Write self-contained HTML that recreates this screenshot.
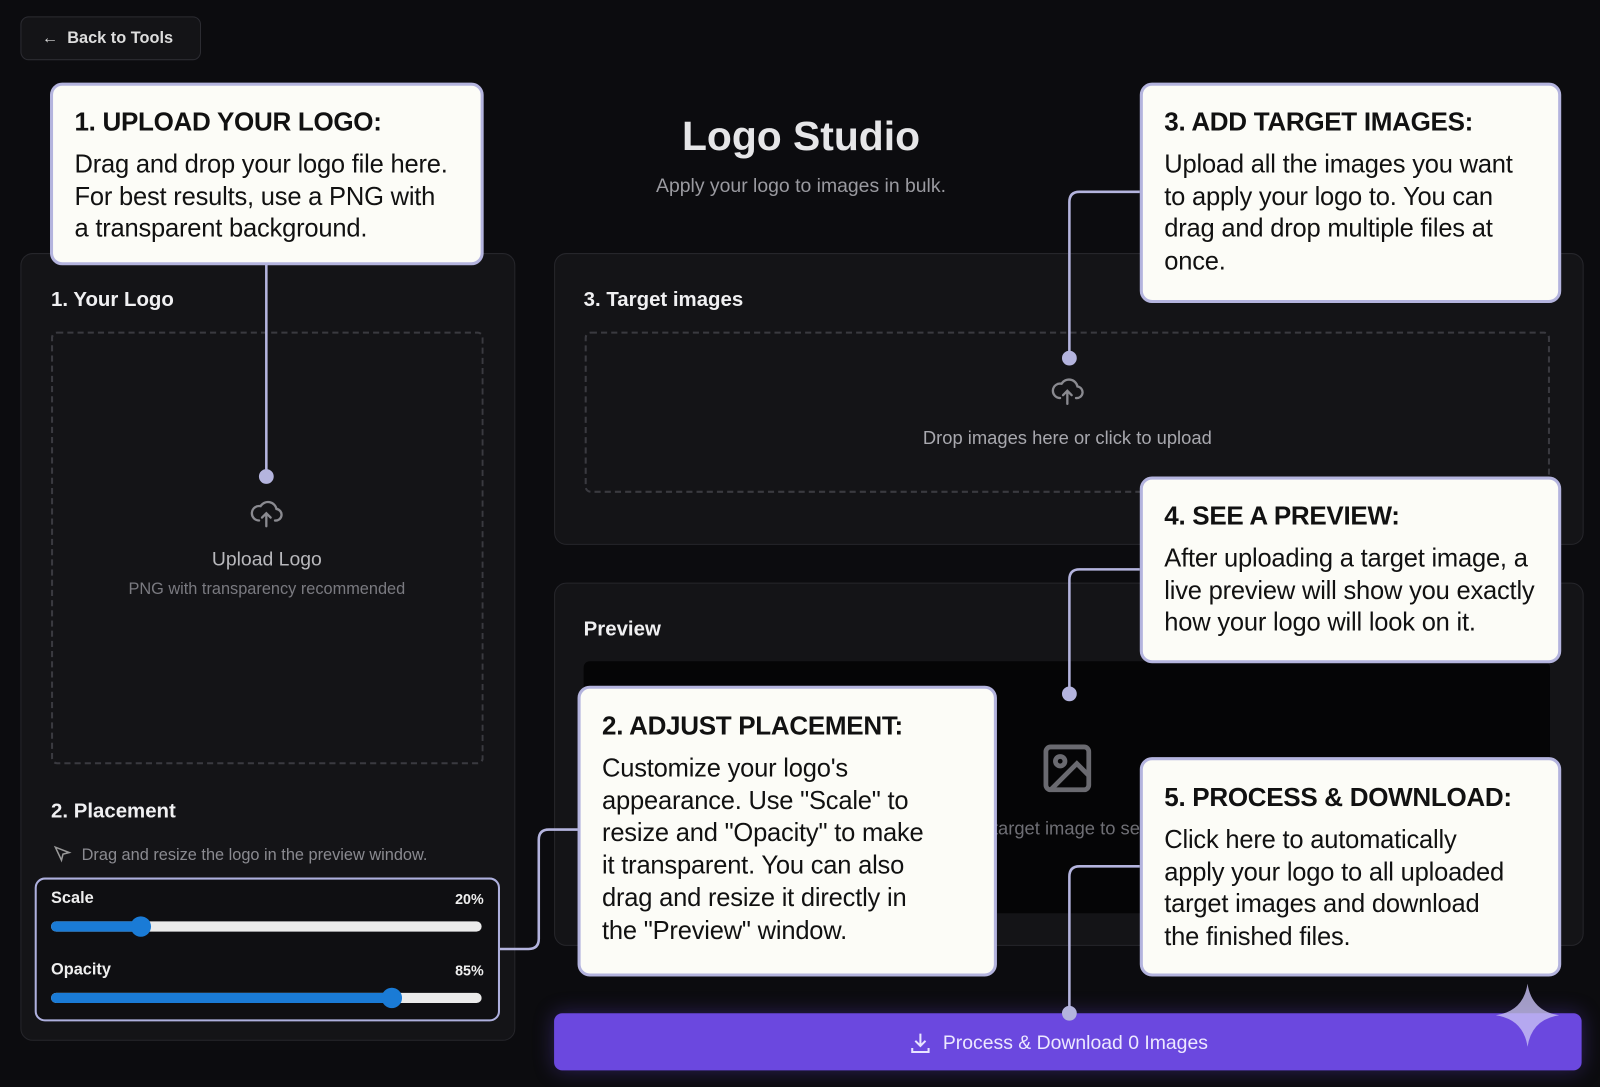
<!DOCTYPE html>
<html><head><meta charset="utf-8"><style>
html,body{margin:0;padding:0;background:#0c0c0f;width:1600px;height:1087px;overflow:hidden}
#w{position:absolute;left:0;top:0;width:1568px;height:1065px;transform:scale(1.0204);transform-origin:0 0;font-family:"Liberation Sans",sans-serif;color:#e8e8ea}
.a{position:absolute}
.panel{position:absolute;background:#141417;border:1px solid #26262b;border-radius:12px}
.dash{position:absolute;border:2px dashed #3a3a40;border-radius:6px}
.h{position:absolute;font-weight:bold;font-size:20px;color:#f0f0f2}
.co{position:absolute;background:#fcfcf7;border:3px solid #b4b4de;border-radius:12px;color:#111;box-sizing:border-box;padding:20px 6px 0 21px;white-space:nowrap}
.co b{display:block;font-size:25.5px;letter-spacing:-0.3px;margin-bottom:11px}
.co div{font-size:25px;line-height:31.7px;letter-spacing:-0.2px}
.track{position:absolute;height:10px;border-radius:5px;background:#ebebeb}
.fill{position:absolute;left:0;top:0;height:10px;border-radius:5px;background:#1a7bd6}
.th{position:absolute;width:20px;height:20px;border-radius:50%;background:#1a7bd6;top:-5px}
</style></head><body><div id="w">
<div class="a" style="left:20px;top:16px;width:177px;height:43px;border:1px solid #2c2c32;border-radius:8px;background:#141417;box-sizing:border-box;font-size:16px;line-height:41px;padding-left:20px;color:#ddd;font-weight:bold">←&nbsp; Back to Tools</div>

<div class="a" style="left:585px;width:400px;top:112px;text-align:center;font-size:40px;font-weight:bold;color:#e6e6e8">Logo Studio</div>
<div class="a" style="left:585px;width:400px;top:172px;text-align:center;font-size:19px;color:#9a9aa0">Apply your logo to images in bulk.</div>

<div class="panel" style="left:20px;top:248px;width:483px;height:770px"></div>
<div class="h" style="left:50px;top:283px">1. Your Logo</div>
<div class="dash" style="left:50px;top:325px;width:420px;height:420px"></div>
<svg class="a" style="left:243px;top:486px" width="36" height="34" viewBox="0 0 24 24" fill="none" stroke="#8a8a90" stroke-width="1.6" stroke-linecap="round"><path d="M7 17a5 5 0 1 1 1-9.9A6 6 0 0 1 19 9a4 4 0 0 1-1 8"/><path d="M12 21v-9M9 15l3-3 3 3"/></svg>
<div class="a" style="left:50px;width:423px;top:538px;text-align:center;font-size:19px;color:#b8b8bc">Upload Logo</div>
<div class="a" style="left:50px;width:423px;top:569px;text-align:center;font-size:16px;color:#7a7a80">PNG with transparency recommended</div>
<div class="h" style="left:50px;top:784px">2. Placement</div>
<svg class="a" style="left:52px;top:828px" width="18" height="18" viewBox="0 0 24 24" fill="none" stroke="#999" stroke-width="2"><path d="M3 3l18 7-8 2-2 8z"/></svg>
<div class="a" style="left:80px;top:830px;font-size:16px;color:#8a8a90">Drag and resize the logo in the preview window.</div>
<div class="a" style="left:34px;top:860px;width:456px;height:141px;border:2px solid #aeb0de;border-radius:10px;box-sizing:border-box;background:#0f0f12"></div>
<div class="a" style="left:50px;top:872px;font-size:16px;font-weight:bold;color:#eee">Scale</div>
<div class="a" style="left:420px;width:54px;text-align:right;top:873px;font-size:14px;font-weight:bold;color:#eee">20%</div>
<div class="track" style="left:50px;top:903px;width:422px"><div class="fill" style="width:90px"></div><div class="th" style="left:78px"></div></div>
<div class="a" style="left:50px;top:942px;font-size:16px;font-weight:bold;color:#eee">Opacity</div>
<div class="a" style="left:420px;width:54px;text-align:right;top:943px;font-size:14px;font-weight:bold;color:#eee">85%</div>
<div class="track" style="left:50px;top:973px;width:422px"><div class="fill" style="width:336px"></div><div class="th" style="left:324px"></div></div>

<div class="panel" style="left:543px;top:248px;width:1007px;height:284px"></div>
<div class="h" style="left:572px;top:283px">3. Target images</div>
<div class="dash" style="left:573px;top:325px;width:942px;height:154px"></div>
<svg class="a" style="left:1028px;top:366px" width="36" height="34" viewBox="0 0 24 24" fill="none" stroke="#8a8a90" stroke-width="1.6" stroke-linecap="round"><path d="M7 17a5 5 0 1 1 1-9.9A6 6 0 0 1 19 9a4 4 0 0 1-1 8"/><path d="M12 21v-9M9 15l3-3 3 3"/></svg>
<div class="a" style="left:573px;width:946px;top:419px;text-align:center;font-size:18px;color:#a8a8ae">Drop images here or click to upload</div>

<div class="panel" style="left:543px;top:571px;width:1007px;height:354px"></div>
<div class="h" style="left:572px;top:606px">Preview</div>
<div class="a" style="left:572px;top:648px;width:947px;height:247px;background:#050506;border-radius:6px"></div>
<svg class="a" style="left:1018px;top:725px" width="56" height="56" viewBox="0 0 24 24" fill="none" stroke="#6a6a70" stroke-width="2"><rect x="3" y="3" width="18" height="18" rx="2"/><circle cx="9" cy="9" r="2"/><path d="M21 15l-5-5L5 21"/></svg>
<div class="a" style="left:896px;top:802px;font-size:18px;color:#6e6e74;white-space:nowrap">Upload a target image to see preview</div>

<div class="a" style="left:543px;top:993px;width:1007px;height:56px;background:#6b48df;border-radius:8px;box-shadow:0 0 20px rgba(107,72,223,.35)"></div>
<svg class="a" style="left:890px;top:1010px" width="24" height="24" viewBox="0 0 24 24" fill="none" stroke="#e8e4ff" stroke-width="2"><path d="M12 3v12M7 10l5 5 5-5M4 17v4h16v-4"/></svg>
<div class="a" style="left:924px;top:1012px;font-size:19px;color:#ece8ff">Process &amp; Download 0 Images</div>
<svg class="a" style="left:1466px;top:964px" width="62" height="62" viewBox="0 0 62 62"><path d="M31 0 Q35 27 62 31 Q35 35 31 62 Q27 35 0 31 Q27 27 31 0Z" fill="#c8c0f4" opacity=".8"/></svg>

<svg class="a" style="left:0;top:0" width="1568" height="1065" fill="none" stroke="#b4b4de" stroke-width="2.5">
<path d="M261 259V467"/><circle cx="261" cy="467" r="6" fill="#b4b4de"/>
<path d="M1117 188H1058Q1048 188 1048 198V351"/><circle cx="1048" cy="351" r="6" fill="#b4b4de"/>
<path d="M1117 558H1058Q1048 558 1048 568V680"/><circle cx="1048" cy="680" r="6" fill="#b4b4de"/>
<path d="M1117 849H1058Q1048 849 1048 859V993"/><circle cx="1048" cy="993" r="6" fill="#b4b4de"/>
<path d="M566 813H538Q528 813 528 823V920Q528 930 518 930H490"/>
</svg>

<div class="co" style="left:49px;top:81px;width:425px;height:179px;padding-top:22px"><b>1. UPLOAD YOUR LOGO:</b><div>Drag and drop your logo file here.<br>For best results, use a PNG with<br>a transparent background.</div></div>
<div class="co" style="left:1117px;top:81px;width:413px;height:216px;padding-top:22px"><b>3. ADD TARGET IMAGES:</b><div>Upload all the images you want<br>to apply your logo to. You can<br>drag and drop multiple files at<br>once.</div></div>
<div class="co" style="left:1117px;top:467px;width:413px;height:183px;padding-top:22px"><b>4. SEE A PREVIEW:</b><div>After uploading a target image, a<br>live preview will show you exactly<br>how your logo will look on it.</div></div>
<div class="co" style="left:566px;top:672px;width:411px;height:285px;padding-top:23px"><b>2. ADJUST PLACEMENT:</b><div>Customize your logo's<br>appearance. Use "Scale" to<br>resize and "Opacity" to make<br>it transparent. You can also<br>drag and resize it directly in<br>the "Preview" window.</div></div>
<div class="co" style="left:1117px;top:742px;width:413px;height:215px;padding-top:23px"><b>5. PROCESS &amp; DOWNLOAD:</b><div>Click here to automatically<br>apply your logo to all uploaded<br>target images and download<br>the finished files.</div></div>
</div></body></html>
